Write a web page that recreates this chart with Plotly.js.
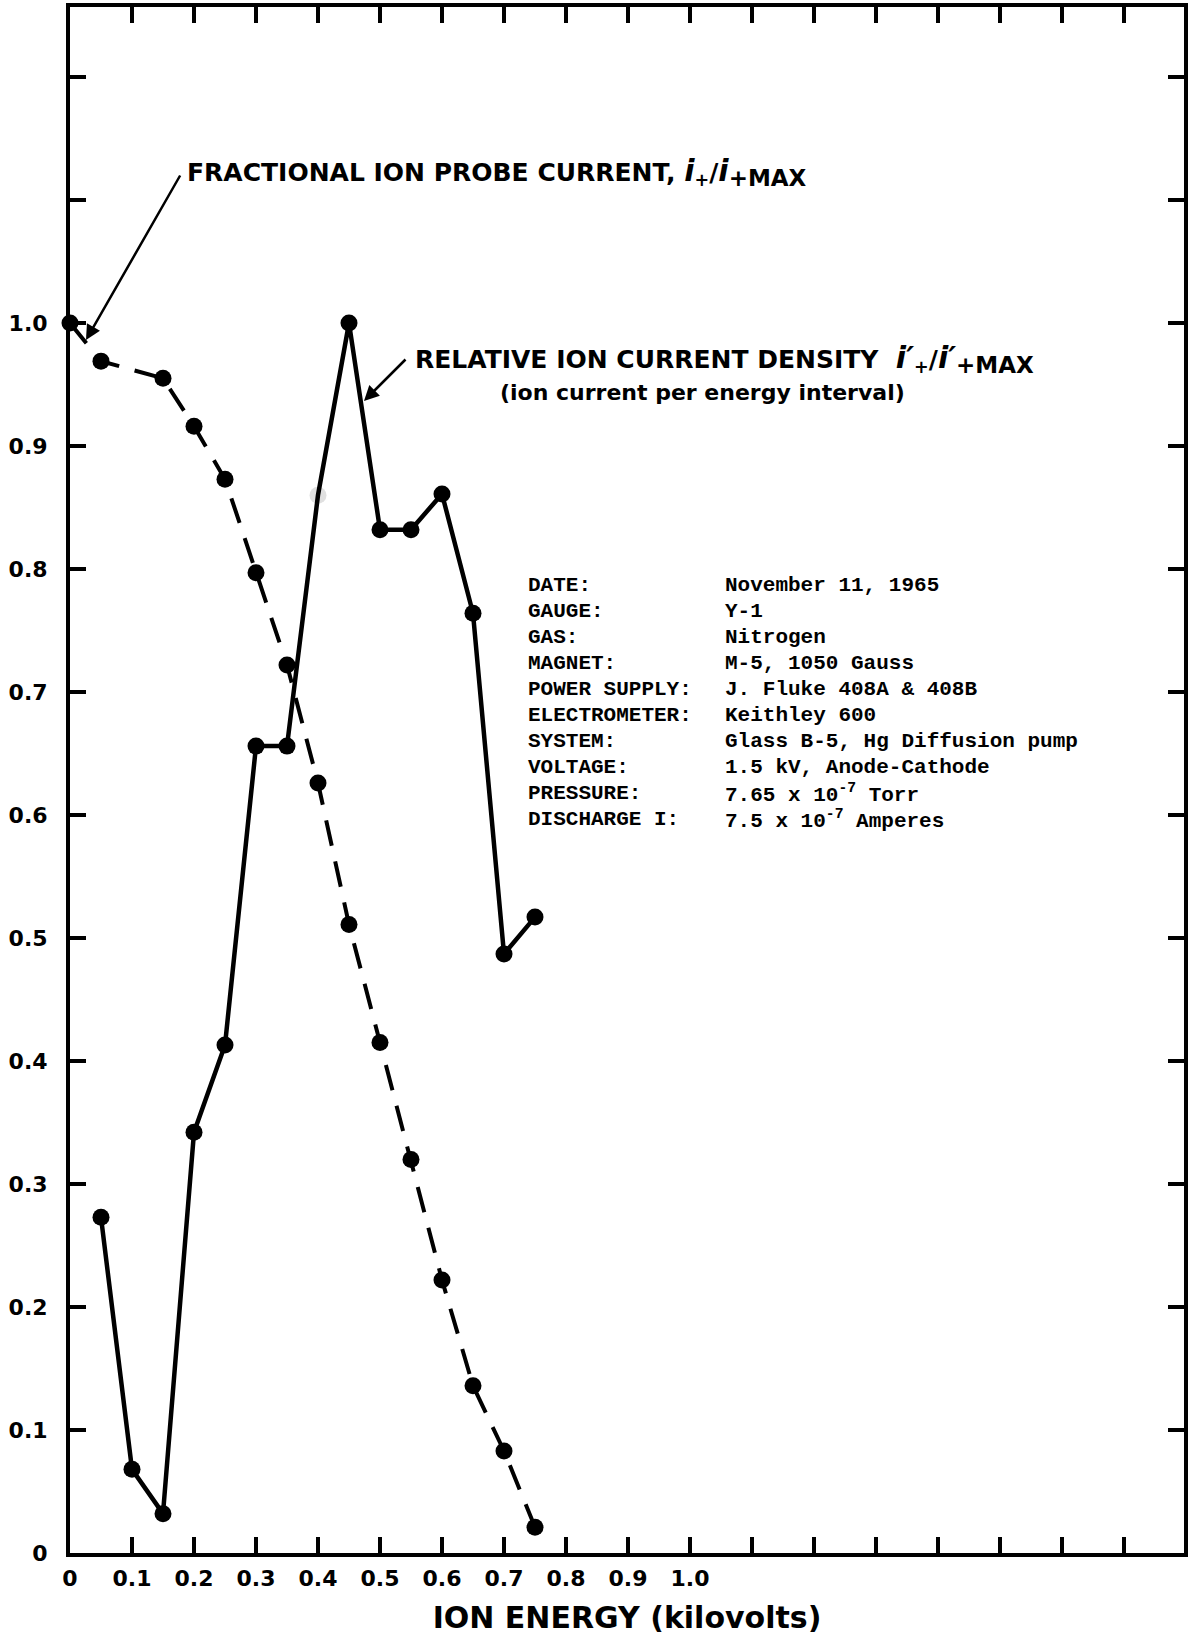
<!DOCTYPE html>
<html>
<head>
<meta charset="utf-8">
<script src="https://cdn.plot.ly/plotly-3.0.1.min.js"></script>
<style>
  html, body { margin: 0; padding: 0; background: #ffffff; }
  #chart { width: 1189px; height: 1637px; }
</style>
</head>
<body>
<div id="chart"></div>
<script>
// ---- Data ----
const probeEnergy = [0, 0.05, 0.15, 0.2, 0.25, 0.3, 0.35, 0.4, 0.45, 0.5, 0.55, 0.6, 0.65, 0.7, 0.75];
const probeCurrent = [1.0, 0.969, 0.955, 0.916, 0.873, 0.797, 0.722, 0.626, 0.511, 0.415, 0.320, 0.222, 0.136, 0.083, 0.021];

const densityEnergy = [0.05, 0.1, 0.15, 0.2, 0.25, 0.3, 0.35, 0.4, 0.45, 0.5, 0.55, 0.6, 0.65, 0.7, 0.75];
const densityCurrent = [0.273, 0.068, 0.032, 0.342, 0.413, 0.656, 0.656, 0.86, 1.0, 0.832, 0.832, 0.861, 0.764, 0.487, 0.517];
// the 0.4 kV point is barely visible (faded) in the reference
const densityFaded = [false, false, false, false, false, false, false, true, false, false, false, false, false, false, false];

const xTickVals = [0, 0.1, 0.2, 0.3, 0.4, 0.5, 0.6, 0.7, 0.8, 0.9, 1.0];
const xTickText = ['0', '0.1', '0.2', '0.3', '0.4', '0.5', '0.6', '0.7', '0.8', '0.9', '1.0'];
const yTickVals = [0, 0.1, 0.2, 0.3, 0.4, 0.5, 0.6, 0.7, 0.8, 0.9, 1.0];
const yTickText = ['0', '0.1', '0.2', '0.3', '0.4', '0.5', '0.6', '0.7', '0.8', '0.9', '1.0'];
const tickStep = 0.1;

const xTitle = 'ION ENERGY (kilovolts)';
const probeLabel = 'FRACTIONAL ION PROBE CURRENT, <span style="font-size:30px"><i>i</i></span><sub>+</sub>/<span style="font-size:30px"><i>i</i></span><sub><span style="font-size:23px">+MAX</span></sub>';
const densityLabel = 'RELATIVE ION CURRENT DENSITY  <span style="font-size:30px"><i>i′</i></span><sub>+</sub>/<span style="font-size:30px"><i>i′</i></span><sub><span style="font-size:23px">+MAX</span></sub>';
const densitySubLabel = '(ion current per energy interval)';

const tableLabels = ['DATE:', 'GAUGE:', 'GAS:', 'MAGNET:', 'POWER SUPPLY:', 'ELECTROMETER:', 'SYSTEM:', 'VOLTAGE:', 'PRESSURE:', 'DISCHARGE I:'];
const tableValues = ['November 11, 1965', 'Y-1', 'Nitrogen', 'M-5, 1050 Gauss', 'J. Fluke 408A &amp; 408B', 'Keithley 600',
  'Glass B-5, Hg Diffusion pump', '1.5 kV, Anode-Cathode', '7.65 x 10<sup>-7</sup> Torr', '7.5 x 10<sup>-7</sup> Amperes'];

// ---- Layout helpers (pixel geometry of the plot frame) ----
const L = 70, R = 5, T = 7, B = 84;
const W = 1189, H = 1637;
const pxPerX = 620, pxPerY = 1230;
const xMax = (W - L - R) / pxPerX;
const yMax = (H - T - B) / pxPerY;
const dx = px => (px - L) / pxPerX;          // page pixel -> data x
const dy = py => (H - B - py) / pxPerY;      // page pixel -> data y

const LETTER = 'DejaVu Sans';
const TYPE = 'Liberation Mono';

const traces = [
  {
    x: probeEnergy, y: probeCurrent,
    type: 'scatter', mode: 'lines+markers',
    line: { color: '#000', width: 4, dash: '26px,16px' },
    marker: { color: '#000', size: 17 },
    cliponaxis: false,
    hoverinfo: 'x+y', showlegend: false
  },
  {
    x: densityEnergy, y: densityCurrent,
    type: 'scatter', mode: 'lines+markers',
    line: { color: '#000', width: 4.5 },
    marker: { color: densityFaded.map(f => f ? 'rgba(0,0,0,0.12)' : '#000'), size: 17 },
    cliponaxis: false,
    hoverinfo: 'x+y', showlegend: false
  }
];

const annotations = [
  // leader arrow for probe current
  {
    x: dx(86), y: dy(340), xref: 'x', yref: 'y',
    ax: dx(181), ay: dy(174), axref: 'x', ayref: 'y',
    text: '', showarrow: true, arrowhead: 2, arrowsize: 1.2, arrowwidth: 2.5, arrowcolor: '#000', standoff: 0
  },
  {
    x: dx(185), y: dy(172), xref: 'x', yref: 'y', xanchor: 'left', yanchor: 'middle',
    text: probeLabel, showarrow: false,
    font: { family: LETTER, size: 25, color: '#000', weight: 'bold' }
  },
  // leader arrow for density
  {
    x: dx(364), y: dy(401), xref: 'x', yref: 'y',
    ax: dx(407), ay: dy(358), axref: 'x', ayref: 'y',
    text: '', showarrow: true, arrowhead: 2, arrowsize: 1.2, arrowwidth: 2.5, arrowcolor: '#000', standoff: 0
  },
  {
    x: dx(413), y: dy(359), xref: 'x', yref: 'y', xanchor: 'left', yanchor: 'middle',
    text: densityLabel, showarrow: false,
    font: { family: LETTER, size: 25, color: '#000', weight: 'bold' }
  },
  {
    x: dx(702), y: dy(392), xref: 'x', yref: 'y', xanchor: 'center', yanchor: 'middle',
    text: densitySubLabel, showarrow: false,
    font: { family: LETTER, size: 22, color: '#000', weight: 'bold' }
  }
];

tableLabels.forEach((lab, i) => {
  const yy = dy(585 + 26.1 * i);
  annotations.push({
    x: dx(526), y: yy, xref: 'x', yref: 'y', xanchor: 'left', yanchor: 'middle',
    text: lab, showarrow: false,
    font: { family: TYPE, size: 21, color: '#000', weight: 'bold' }
  });
  annotations.push({
    x: dx(723), y: yy, xref: 'x', yref: 'y', xanchor: 'left', yanchor: 'middle',
    text: tableValues[i], showarrow: false,
    font: { family: TYPE, size: 21, color: '#000', weight: 'bold' }
  });
});

const axisCommon = {
  showline: true, linecolor: '#000', linewidth: 4,
  mirror: 'allticks', ticks: 'inside', ticklen: 16, tickwidth: 3.5, tickcolor: '#000',
  showgrid: false, zeroline: false, fixedrange: true,
  tickfont: { family: LETTER, size: 22, color: '#000', weight: 'bold' },
  minor: { tickmode: 'linear', tick0: 0, dtick: tickStep, ticks: 'inside', ticklen: 16, tickwidth: 3.5, tickcolor: '#000', showgrid: false }
};

const layout = {
  width: W, height: H,
  margin: { l: L, r: R, t: T, b: B, pad: 0 },
  paper_bgcolor: '#fff', plot_bgcolor: '#fff',
  showlegend: false,
  xaxis: Object.assign({}, axisCommon, {
    range: [0, xMax], tickmode: 'array', tickvals: xTickVals, ticktext: xTickText,
    ticklabelstandoff: 3,
    title: { text: xTitle, font: { family: LETTER, size: 30, color: '#000', weight: 'bold' }, standoff: 18 }
  }),
  yaxis: Object.assign({}, axisCommon, {
    range: [0, yMax], tickmode: 'array', tickvals: yTickVals, ticktext: yTickText,
    ticklabelstandoff: 14
  }),
  annotations: annotations
};

Plotly.newPlot('chart', traces, layout, { displayModeBar: false, staticPlot: true });
</script>
</body>
</html>
